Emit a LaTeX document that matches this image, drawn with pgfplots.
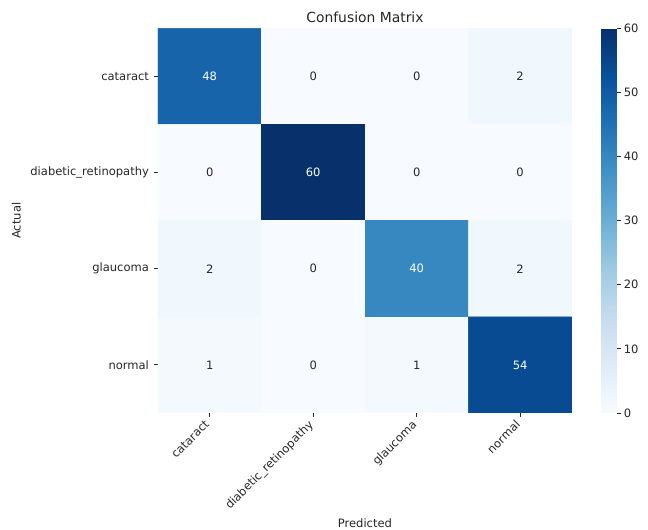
\documentclass[border=0pt]{standalone}
\usepackage{fontspec}
\setmainfont{DejaVu Sans}
\usepackage{pgfplots}
\pgfplotsset{compat=1.18}
\definecolor{txt}{RGB}{38,38,38}
\newcommand{\fs}{\fontsize{8.3}{10}\selectfont}
\begin{document}
\begin{tikzpicture}
\useasboundingbox (0,0) rectangle (466.56pt,381.6pt);
\begin{axis}[
  at={(113.76pt,84.24pt)}, anchor=south west,
  scale only axis, width=298pt, height=277pt,
  xmin=-0.5, xmax=3.5, ymin=-0.5, ymax=3.5,
  y dir=reverse, enlargelimits=false,
  axis line style={draw=none},
  tick align=outside, major tick length=3pt,
  xtick pos=bottom, ytick pos=left,
  tick style={color=txt, line width=0.6pt},
  xtick={0,1,2,3}, ytick={0,1,2,3},
  xticklabels={cataract, diabetic\_retinopathy, glaucoma, normal},
  yticklabels={cataract, diabetic\_retinopathy, glaucoma, normal},
  x tick label style={xshift=-4pt, rotate=45, anchor=north east, inner sep=1pt, font=\fs, text=txt},
  y tick label style={font=\fs, text=txt},
  xlabel={Predicted}, ylabel={Actual},
  label style={font=\fs, text=txt},
  title={Confusion Matrix},
  title style={font=\fontsize{10}{12}\selectfont, text=txt, at={(0.5,1)}, anchor=south, inner sep=0pt, yshift=-2pt},
  colormap={blues}{rgb255=(247,251,255) rgb255=(222,235,247) rgb255=(198,219,239) rgb255=(158,202,225) rgb255=(107,174,214) rgb255=(66,146,198) rgb255=(33,113,181) rgb255=(8,81,156) rgb255=(8,48,107)},
  point meta min=0, point meta max=60,
  colorbar,
  colorbar style={
    at={(parent axis.north east)}, anchor=north west, xshift=12.9pt,
    width=10.8pt,
    ytick={0,10,20,30,40,50,60},
    ytick pos=right, xtick pos=bottom,
    axis line style={draw=none},
    tick align=outside, major tick length=3pt,
    tick style={color=txt, line width=0.6pt},
    yticklabel style={font=\fs, text=txt, inner sep=2pt},
    /pgf/number format/assume math mode=true,
  },
  /pgf/number format/assume math mode=true,
]
\addplot[matrix plot*, mesh/cols=4, point meta=explicit] table[meta=c] {
x y c
0 0 48
1 0 0
2 0 0
3 0 2
0 1 0
1 1 60
2 1 0
3 1 0
0 2 2
1 2 0
2 2 40
3 2 2
0 3 1
1 3 0
2 3 1
3 3 54
};
\addplot[draw=none, mark=none, point meta=explicit, nodes near coords={\pgfmathprintnumber{\pgfplotspointmeta}}, nodes near coords align=center, every node near coord/.append style={text=white, font=\fs, anchor=center}] table[meta=c] {
x y c
0 0 48
1 1 60
2 2 40
3 3 54
};
\addplot[draw=none, mark=none, point meta=explicit, nodes near coords={\pgfmathprintnumber{\pgfplotspointmeta}}, nodes near coords align=center, every node near coord/.append style={text=txt, font=\fs, anchor=center}] table[meta=c] {
x y c
1 0 0
2 0 0
3 0 2
0 1 0
2 1 0
3 1 0
0 2 2
1 2 0
3 2 2
0 3 1
1 3 0
2 3 1
};
\end{axis}
\end{tikzpicture}
\end{document}
